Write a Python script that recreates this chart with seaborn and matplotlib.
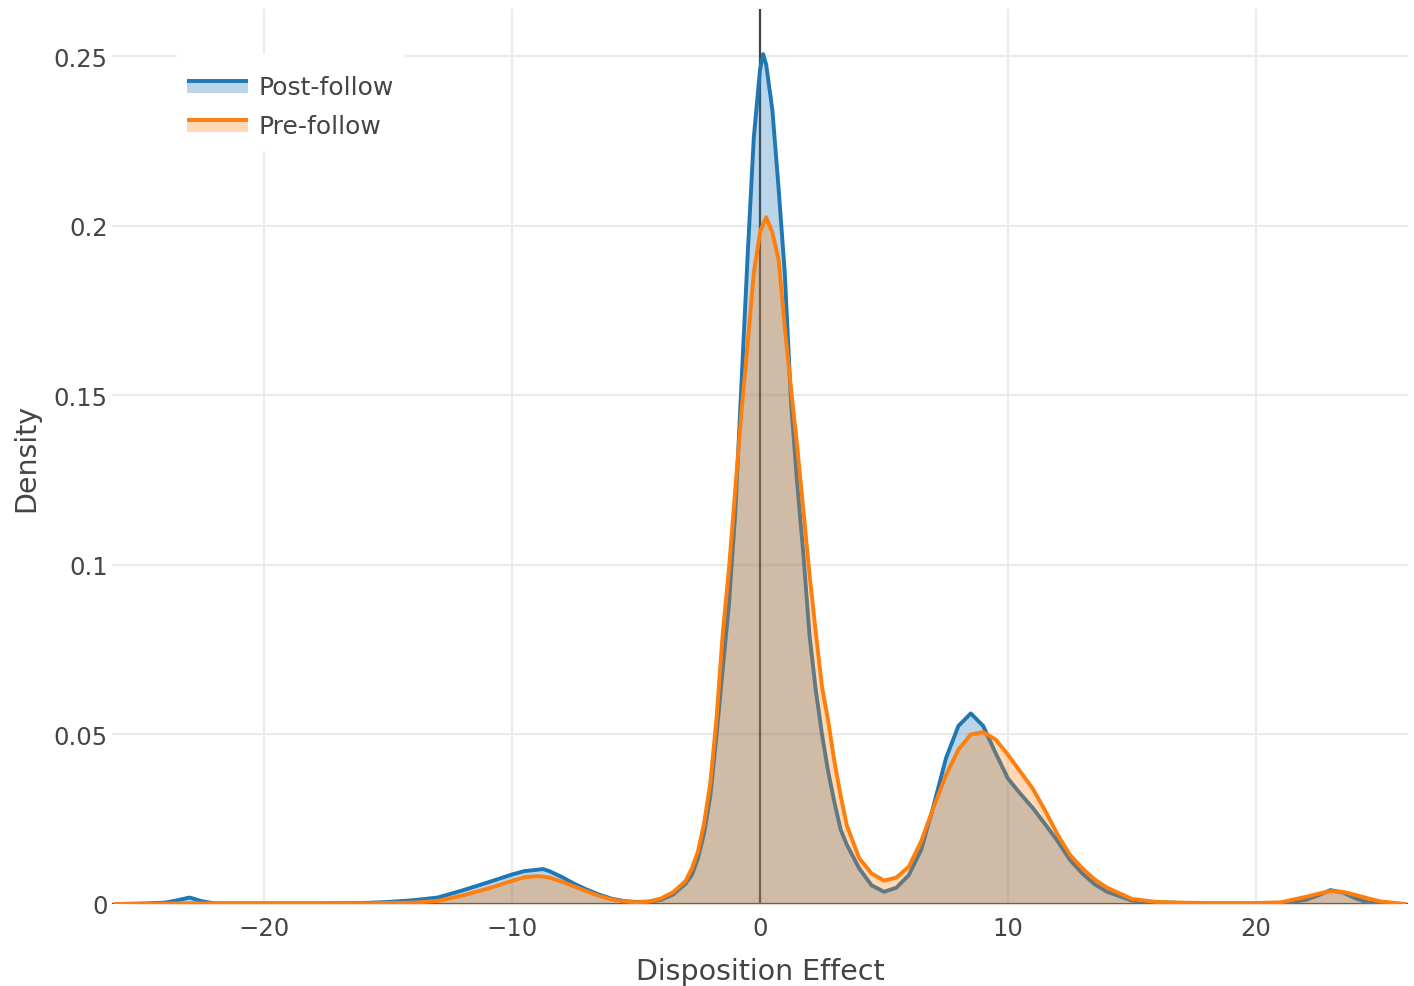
import matplotlib
matplotlib.use("Agg")
import matplotlib.pyplot as plt
from matplotlib.patches import Rectangle, Patch
from matplotlib.lines import Line2D
from matplotlib.legend_handler import HandlerBase
import seaborn as sns
import pandas as pd

# ---------------- data ----------------
x_grid = [-26, -25, -24, -23.5, -23, -22.5, -22, -20, -18, -16, -15, -14, -13,
          -12, -11, -10, -9.5, -9, -8.75, -8.5, -8, -7.5, -7, -6.5, -6, -5.5,
          -5, -4.5, -4, -3.5, -3, -2.75, -2.5, -2.25, -2, -1.75, -1.5, -1.25,
          -1, -0.75, -0.5, -0.25, 0, 0.125, 0.25, 0.5, 0.75, 1, 1.25, 1.5,
          1.75, 2, 2.25, 2.5, 2.75, 3, 3.25, 3.5, 4, 4.5, 5, 5.5, 6, 6.5, 7,
          7.5, 8, 8.5, 9, 9.5, 10, 10.5, 11, 11.5, 12, 12.5, 13, 13.5, 14, 15,
          16, 17, 18, 20, 21, 22, 22.5, 23, 23.5, 24, 24.5, 25, 26]

post_follow = [0.0, 0.0001, 0.0004, 0.0011, 0.0019, 0.0008, 0.0002, 0.0002,
               0.0002, 0.0003, 0.0006, 0.0011, 0.0019, 0.0040, 0.0063, 0.0087,
               0.0097, 0.0101, 0.0103, 0.0097, 0.0080, 0.0060, 0.0043, 0.0028,
               0.0016, 0.0009, 0.0006, 0.0007, 0.0012, 0.0028, 0.0060, 0.0085,
               0.0135, 0.0210, 0.0320, 0.0500, 0.0695, 0.0885, 0.1150, 0.1530,
               0.1910, 0.2260, 0.2460, 0.2506, 0.2475, 0.2340, 0.2110, 0.1860,
               0.1480, 0.1240, 0.1030, 0.0790, 0.0630, 0.0500, 0.0390, 0.0300,
               0.0220, 0.0175, 0.0105, 0.0055, 0.0036, 0.0048, 0.0085, 0.0160,
               0.0290, 0.0430, 0.0525, 0.0562, 0.0525, 0.0445, 0.0370, 0.0325,
               0.0283, 0.0235, 0.0186, 0.0130, 0.0090, 0.0058, 0.0036, 0.0010,
               0.0005, 0.0003, 0.0002, 0.0002, 0.0002, 0.0012, 0.0025, 0.0041,
               0.0034, 0.0017, 0.0005, 0.0001, 0.0]

pre_follow = [0.0, 0.0001, 0.0001, 0.0002, 0.0002, 0.0002, 0.0002, 0.0002,
              0.0002, 0.0002, 0.0003, 0.0004, 0.0009, 0.0025, 0.0045, 0.0068,
              0.0079, 0.0082, 0.0081, 0.0078, 0.0066, 0.0052, 0.0038, 0.0024,
              0.0014, 0.0008, 0.0005, 0.0007, 0.0016, 0.0035, 0.0068, 0.0105,
              0.0155, 0.0240, 0.0360, 0.0550, 0.0800, 0.0990, 0.1220, 0.1450,
              0.1650, 0.1860, 0.1980, 0.2005, 0.2025, 0.1980, 0.1900, 0.1700,
              0.1520, 0.1350, 0.1160, 0.0970, 0.0800, 0.0640, 0.0540, 0.0420,
              0.0320, 0.0232, 0.0135, 0.0090, 0.0069, 0.0078, 0.0110, 0.0185,
              0.0285, 0.0380, 0.0455, 0.0500, 0.0507, 0.0485, 0.0440, 0.0390,
              0.0340, 0.0275, 0.0205, 0.0145, 0.0105, 0.0072, 0.0048, 0.0015,
              0.0006, 0.0004, 0.0003, 0.0003, 0.0005, 0.0021, 0.0030, 0.0038,
              0.0036, 0.0027, 0.0017, 0.0008, 0.0]

series_names = ["Post-follow", "Pre-follow"]
x_ticks = [-20, -10, 0, 10, 20]
x_tick_labels = ["\u221220", "\u221210", "0", "10", "20"]
y_ticks = [0, 0.05, 0.1, 0.15, 0.2, 0.25]
y_tick_labels = ["0", "0.05", "0.1", "0.15", "0.2", "0.25"]

# ---------------- style ----------------
sns.set_style("white")
plt.rcParams["font.family"] = ["DejaVu Sans"]
TXT = "#444444"
BLUE = "#1f77b4"
ORANGE = "#ff7f0e"
FS_TICK = 17.5
FS_TITLE = 20.5
FS_LEG = 18

W, H = 1414, 987
fig = plt.figure(figsize=(W / 100, H / 100), dpi=100)
L, R, T, B = 112, 1408, 10, 905
ax = fig.add_axes([L / W, (H - B) / H, (R - L) / W, (B - T) / H])

df = pd.DataFrame({
    "x": x_grid * 2,
    "density": post_follow + pre_follow,
    "series": [series_names[0]] * len(x_grid) + [series_names[1]] * len(x_grid),
})

lw = 2.8
for name, color, zf in [(series_names[0], BLUE, 2), (series_names[1], ORANGE, 4)]:
    sub = df[df["series"] == name]
    ax.fill_between(sub["x"], 0, sub["density"], color=color, alpha=0.3,
                    linewidth=0, zorder=zf)
    sns.lineplot(data=sub, x="x", y="density", color=color, linewidth=lw,
                 ax=ax, zorder=zf + 1, sort=True, estimator=None)

ax.set_xlim(-26.13, 26.13)
ax.set_ylim(0, 0.2639)

# zero lines (below traces)
ax.axvline(0, color=TXT, lw=1.6, zorder=1.5)
ax.axhline(0, color=TXT, lw=1.6, zorder=1.5)

ax.set_xticks(x_ticks)
ax.set_xticklabels(x_tick_labels)
ax.set_yticks(y_ticks)
ax.set_yticklabels(y_tick_labels)
ax.tick_params(axis="both", length=0, labelsize=FS_TICK, labelcolor=TXT)
ax.tick_params(axis="x", pad=9)
ax.tick_params(axis="y", pad=3)
ax.grid(True, color="#ebebeb", lw=1.6, zorder=0.5)
ax.set_axisbelow(True)
for s in ax.spines.values():
    s.set_visible(False)

ax.set_xlabel("Disposition Effect", fontsize=FS_TITLE, color=TXT, labelpad=12)
ax.set_ylabel("Density", fontsize=FS_TITLE, color=TXT, labelpad=10)

# white legend background (covers gridlines as in reference)
bg = Rectangle((177 / W, 1 - 152 / H), (405 - 177) / W, (152 - 55) / H,
               transform=fig.transFigure, facecolor="white", edgecolor="none",
               zorder=1)
ax.add_patch(bg)


class FillLineHandler(HandlerBase):
    def __init__(self, line_color, fill_color):
        super().__init__()
        self.lc = line_color
        self.fc = fill_color

    def create_artists(self, legend, orig_handle, xdescent, ydescent, width,
                       height, fontsize, trans):
        x0 = -xdescent
        y0 = -ydescent
        rect = Rectangle((x0, y0 + 0.05 * height), width, 0.72 * height,
                         facecolor=self.fc, edgecolor="none", alpha=0.3,
                         transform=trans)
        ln = Line2D([x0, x0 + width], [y0 + 0.72 * height] * 2,
                    color=self.lc, lw=2.8, transform=trans,
                    solid_capstyle="butt")
        return [rect, ln]


h1 = Patch()
h2 = Patch()
leg = ax.legend([h1, h2], series_names,
                handler_map={h1: FillLineHandler(BLUE, BLUE),
                             h2: FillLineHandler(ORANGE, ORANGE)},
                loc="upper left", bbox_to_anchor=(177 / W, 1 - 66 / H),
                bbox_transform=fig.transFigure, frameon=False,
                fontsize=FS_LEG, handlelength=2.44, handletextpad=0.42,
                labelspacing=0.6, borderpad=0.4, borderaxespad=0)
for t in leg.get_texts():
    t.set_color(TXT)

fig.savefig("out.png", dpi=100)
